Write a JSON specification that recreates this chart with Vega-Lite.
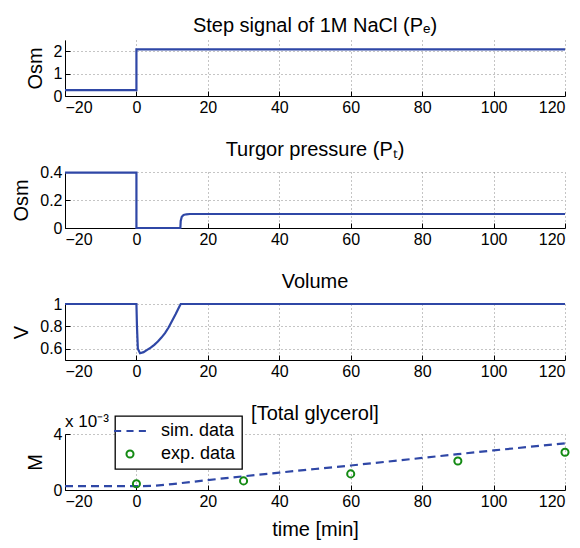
{
  "$schema": "https://vega.github.io/schema/vega-lite/v6.json",
  "padding": {"left": 11, "right": 0, "top": 16, "bottom": 2},
  "background": "white",
  "datasets": {
    "pe": [
      {"i": 0, "t": -20, "v": 0.26},
      {"i": 1, "t": 0, "v": 0.26},
      {"i": 2, "t": 0, "v": 2.08},
      {"i": 3, "t": 120, "v": 2.08}
    ],
    "pt": [
      {"i": 0, "t": -20, "v": 0.395},
      {"i": 1, "t": 0, "v": 0.395},
      {"i": 2, "t": 0, "v": 0},
      {"i": 3, "t": 12.3, "v": 0},
      {"i": 4, "t": 12.4, "v": 0.05},
      {"i": 5, "t": 12.7, "v": 0.08},
      {"i": 6, "t": 13.2, "v": 0.093},
      {"i": 7, "t": 14, "v": 0.098},
      {"i": 8, "t": 15, "v": 0.1},
      {"i": 9, "t": 120, "v": 0.1}
    ],
    "vol": [
      {"i": 0, "t": -20, "v": 1},
      {"i": 1, "t": 0, "v": 1},
      {"i": 2, "t": 0.15, "v": 0.8},
      {"i": 3, "t": 0.4, "v": 0.6},
      {"i": 4, "t": 1, "v": 0.56},
      {"i": 5, "t": 2, "v": 0.57},
      {"i": 6, "t": 3, "v": 0.59},
      {"i": 7, "t": 4, "v": 0.61},
      {"i": 8, "t": 5, "v": 0.635},
      {"i": 9, "t": 6, "v": 0.665},
      {"i": 10, "t": 7, "v": 0.7},
      {"i": 11, "t": 8, "v": 0.74},
      {"i": 12, "t": 9, "v": 0.79},
      {"i": 13, "t": 10, "v": 0.85},
      {"i": 14, "t": 11, "v": 0.91},
      {"i": 15, "t": 12, "v": 0.975},
      {"i": 16, "t": 12.4, "v": 1},
      {"i": 17, "t": 120, "v": 1}
    ],
    "gsim": [
      {"t": -20, "v": 0.00027, "series": "sim. data"},
      {"t": 0, "v": 0.00027, "series": "sim. data"},
      {"t": 5, "v": 0.0003, "series": "sim. data"},
      {"t": 10, "v": 0.00042, "series": "sim. data"},
      {"t": 20, "v": 0.00071, "series": "sim. data"},
      {"t": 30, "v": 0.00098, "series": "sim. data"},
      {"t": 40, "v": 0.00124, "series": "sim. data"},
      {"t": 50, "v": 0.0015, "series": "sim. data"},
      {"t": 60, "v": 0.00175, "series": "sim. data"},
      {"t": 70, "v": 0.00202, "series": "sim. data"},
      {"t": 80, "v": 0.00229, "series": "sim. data"},
      {"t": 90, "v": 0.00256, "series": "sim. data"},
      {"t": 100, "v": 0.00283, "series": "sim. data"},
      {"t": 110, "v": 0.00308, "series": "sim. data"},
      {"t": 120, "v": 0.00333, "series": "sim. data"}
    ],
    "gexp": [
      {"t": 0, "v": 0.00045, "series": "exp. data"},
      {"t": 30, "v": 0.00065, "series": "exp. data"},
      {"t": 60, "v": 0.00115, "series": "exp. data"},
      {"t": 90, "v": 0.00207, "series": "exp. data"},
      {"t": 120, "v": 0.0027, "series": "exp. data"}
    ]
  },
  "vconcat": [
    {
      "width": 500, "height": 56,
      "title": {"text": "Step signal of 1M NaCl (Pₑ)"},
      "data": {"name": "pe"},
      "mark": {"type": "line", "color": "#2f47a6", "strokeWidth": 2.2},
      "encoding": {
        "x": {"field": "t", "type": "quantitative", "scale": {"domain": [-20, 120], "nice": false}, "axis": {"values": [-20, 0, 20, 40, 60, 80, 100, 120], "title": null}},
        "y": {"field": "v", "type": "quantitative", "scale": {"domain": [0, 2.5], "nice": false}, "axis": {"values": [0, 1, 2], "title": "Osm", "format": "~g"}},
        "order": {"field": "i"}
      }
    },
    {
      "width": 500, "height": 56,
      "title": {"text": "Turgor pressure (Pₜ)"},
      "data": {"name": "pt"},
      "mark": {"type": "line", "color": "#2f47a6", "strokeWidth": 2.2},
      "encoding": {
        "x": {"field": "t", "type": "quantitative", "scale": {"domain": [-20, 120], "nice": false}, "axis": {"values": [-20, 0, 20, 40, 60, 80, 100, 120], "title": null}},
        "y": {"field": "v", "type": "quantitative", "scale": {"domain": [0, 0.4], "nice": false}, "axis": {"values": [0, 0.2, 0.4], "title": "Osm", "format": "~g"}},
        "order": {"field": "i"}
      }
    },
    {
      "width": 500, "height": 56,
      "title": {"text": "Volume"},
      "data": {"name": "vol"},
      "mark": {"type": "line", "color": "#2f47a6", "strokeWidth": 2.2},
      "encoding": {
        "x": {"field": "t", "type": "quantitative", "scale": {"domain": [-20, 120], "nice": false}, "axis": {"values": [-20, 0, 20, 40, 60, 80, 100, 120], "title": null}},
        "y": {"field": "v", "type": "quantitative", "scale": {"domain": [0.5, 1], "nice": false, "zero": false}, "axis": {"values": [0.6, 0.8, 1], "title": "V", "format": "~g"}},
        "order": {"field": "i"}
      }
    },
    {
      "width": 500, "height": 56,
      "title": {"text": "[Total glycerol]", "offset": -11},
      "layer": [
        {
          "data": {"name": "gsim"},
          "mark": {"type": "line", "strokeWidth": 2.2, "strokeDash": [8, 5]},
          "encoding": {
            "x": {"field": "t", "type": "quantitative", "scale": {"domain": [-20, 120], "nice": false}, "axis": {"values": [-20, 0, 20, 40, 60, 80, 100, 120], "title": "time [min]"}},
            "y": {"field": "v", "type": "quantitative", "scale": {"domain": [0, 0.004], "nice": false}, "axis": {"values": [0, 0.002, 0.004], "title": "M", "labelExpr": "format(datum.value*1000, '~g')"}},
            "color": {"field": "series", "type": "nominal", "scale": {"domain": ["sim. data", "exp. data"], "range": ["#2f47a6", "#138a13"]},
              "legend": {"orient": "none", "legendX": 50, "legendY": 376, "title": null, "strokeColor": "black", "fillColor": "white"}}
          }
        },
        {
          "data": {"name": "gexp"},
          "mark": {"type": "point", "filled": false, "strokeWidth": 2, "size": 50, "opacity": 1},
          "encoding": {
            "x": {"field": "t", "type": "quantitative"},
            "y": {"field": "v", "type": "quantitative"},
            "color": {"field": "series", "type": "nominal",
              "legend": {"orient": "none", "legendX": 50, "legendY": 376, "title": null, "strokeColor": "black", "fillColor": "white"}},
            "shape": {"field": "series", "type": "nominal", "scale": {"domain": ["sim. data", "exp. data"], "range": ["M-4.5,0L-2.5,0M-1,0L1,0M2.5,0L4.5,0", "circle"]},
              "legend": {"orient": "none", "legendX": 50, "legendY": 376, "title": null, "strokeColor": "black", "fillColor": "white"}}
          }
        },
        {
          "data": {"values": [{}]},
          "mark": {"type": "text", "align": "left", "baseline": "alphabetic", "dy": -7, "fontSize": 17, "font": "Liberation Sans", "color": "black"},
          "encoding": {
            "x": {"datum": -20, "type": "quantitative"},
            "y": {"datum": 0.004, "type": "quantitative"},
            "text": {"value": "x 10⁻³"}
          }
        }
      ]
    }
  ],
  "config": {
    "font": "Liberation Sans",
    "view": {"stroke": null},
    "concat": {"spacing": 25},
    "title": {"fontSize": 20, "fontWeight": "normal", "font": "Liberation Sans", "color": "black", "anchor": "middle", "offset": 4},
    "axis": {
      "labelFont": "Liberation Sans", "labelFontSize": 16, "labelColor": "black",
      "titleFont": "Liberation Sans", "titleFontSize": 20, "titleFontWeight": "normal", "titleColor": "black",
      "domainColor": "black", "domainWidth": 1,
      "tickColor": "black", "tickSize": -5, "labelPadding": 8,
      "grid": true, "gridColor": "#8a8a8a", "gridDash": [1, 3], "gridWidth": 1
    },
    "axisY": {"titlePadding": 8},
    "axisX": {"titlePadding": 10},
    "legend": {
      "strokeColor": "black", "fillColor": "white", "strokeWidth": 1.3,
      "padding": 6, "cornerRadius": 0,
      "labelFont": "Liberation Sans", "labelFontSize": 18, "labelColor": "black",
      "symbolSize": 50, "symbolStrokeWidth": 2, "symbolFillColor": "transparent",
      "rowPadding": 5, "labelOffset": 22
    }
  }
}
